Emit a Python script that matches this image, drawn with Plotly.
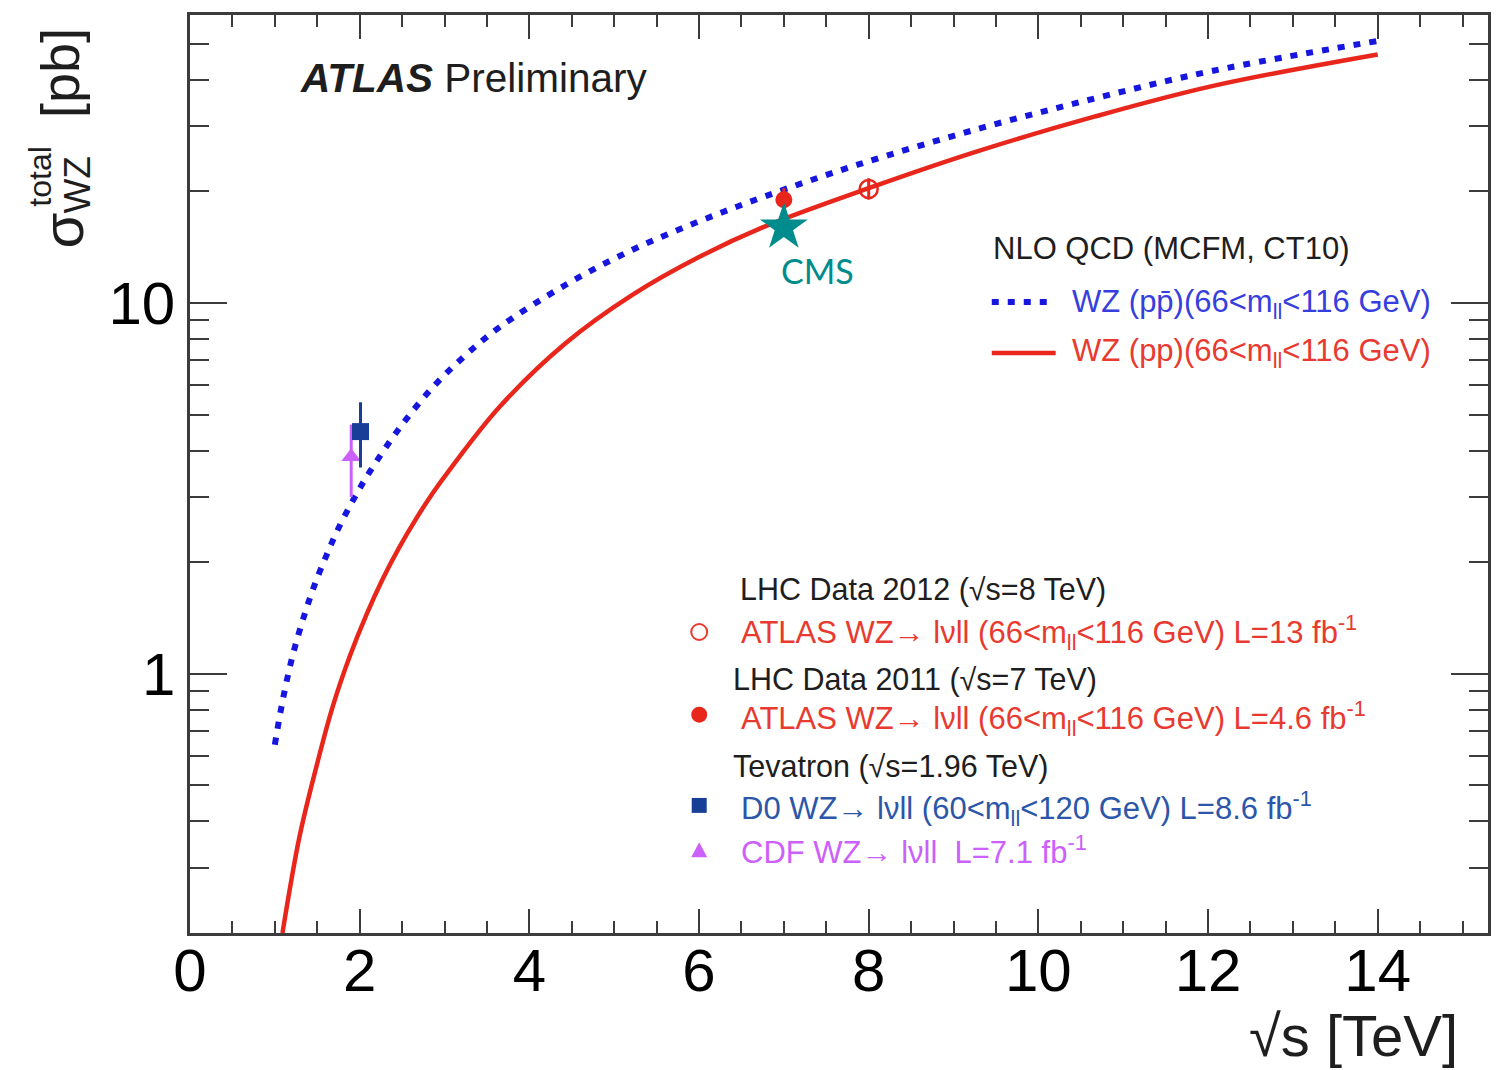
import math
import plotly.graph_objects as go

# NLO QCD (MCFM, CT10) predictions, total WZ cross section [pb] vs sqrt(s) [TeV]
ppbar_sqrts = [1.0, 1.094, 1.21, 1.35, 1.47, 1.61, 1.75, 1.94, 2.12, 2.47, 2.86, 3.25,
               3.65, 4.43, 5.21, 6.0, 6.78, 7.87, 9.27, 10.66, 12.06, 14.0]
ppbar_xsec = [0.644, 0.851, 1.12, 1.445, 1.74, 2.09, 2.47, 2.99, 3.51, 4.60, 5.92, 7.24,
              8.61, 11.2, 13.9, 16.6, 19.4, 23.6, 29.4, 35.6, 42.3, 50.9]

pp_sqrts = [1.09, 1.29, 1.49, 1.68, 1.88, 2.08, 2.27, 2.47, 2.67, 2.86, 3.06, 3.65,
            4.43, 5.21, 6.0, 6.78, 8.0, 9.27, 10.66, 12.06, 14.0]
pp_xsec = [0.20, 0.363, 0.562, 0.813, 1.11, 1.445, 1.80, 2.20, 2.63, 3.07, 3.55, 5.25,
           7.8, 10.5, 13.3, 16.1, 20.4, 25.6, 31.8, 38.5, 46.8]

# Measurements: sqrt(s), sigma, +err, -err
atlas2012_x, atlas2012_y, atlas2012_up, atlas2012_dn = [8.0], [20.3], [1.4], [1.3]
atlas2011_x, atlas2011_y, atlas2011_up, atlas2011_dn = [7.0], [19.0], [1.4], [1.3]
d0_x, d0_y, d0_up, d0_dn = [2.01], [4.5], [0.9], [0.9]
cdf_x, cdf_y, cdf_up, cdf_dn = [1.90], [3.85], [0.85], [0.85]
cms_x, cms_y = [7.0], [16.0]

x_ticks = [0, 2, 4, 6, 8, 10, 12, 14]
y_ticks = [1, 10]
y_minor = [0.2, 0.3, 0.4, 0.5, 0.6, 0.7, 0.8, 0.9, 2, 3, 4, 5, 6, 7, 8, 9, 20, 30, 40, 50, 60]

RED = "rgb(232,38,28)"
RED_TXT = "rgb(232,58,48)"
BLUE = "rgb(22,22,222)"
BLUE_TXT = "rgb(55,62,222)"
D0_BLUE = "rgb(24,62,152)"
D0_TXT = "rgb(44,86,168)"
VIOLET = "rgb(204,96,250)"
TEAL = "rgb(0,140,140)"
AXIS = "#3c3c3c"
TXT = "#1e1e1e"
FONT = "Liberation Sans, Arial, sans-serif"

W, H = 1503, 1070
L, R, T, B = 190, 13, 12, 137
PW, PH = W - L - R, H - T - B


def px(x):
    return (x - L) / PW


def py(y):
    return (H - B - y) / PH


fig = go.Figure()

fig.add_trace(go.Scatter(x=ppbar_sqrts, y=ppbar_xsec, mode="lines", line_shape="spline",
                         line=dict(color=BLUE, width=6, dash="7px,9px"),
                         showlegend=False, hoverinfo="skip"))
fig.add_trace(go.Scatter(x=pp_sqrts, y=pp_xsec, mode="lines", line_shape="spline",
                         line=dict(color=RED, width=4.5),
                         showlegend=False, hoverinfo="skip"))


def point(x, y, up, dn, symbol, color, size, fill=None, lw=2.5):
    fig.add_trace(go.Scatter(
        x=x, y=y, mode="markers",
        marker=dict(symbol=symbol, size=size, color=fill if fill else color,
                    line=dict(color=color, width=lw)),
        error_y=dict(type="data", array=up, arrayminus=dn, color=color,
                     thickness=3, width=0),
        showlegend=False, hoverinfo="skip"))


point(cdf_x, cdf_y, cdf_up, cdf_dn, "triangle-up", VIOLET, 17, lw=0)
point(d0_x, d0_y, d0_up, d0_dn, "square", D0_BLUE, 17, lw=0)
point(atlas2011_x, atlas2011_y, atlas2011_up, atlas2011_dn, "circle", RED, 17, lw=0)
point(atlas2012_x, atlas2012_y, atlas2012_up, atlas2012_dn, "circle-open", RED, 18, lw=2.5)

fig.add_trace(go.Scatter(x=cms_x, y=cms_y, mode="markers",
                         marker=dict(symbol="star", size=36, color=TEAL, line=dict(width=0)),
                         showlegend=False, hoverinfo="skip"))

ann = []


def text(s, x, y, size, color=TXT, anchor="left", angle=0, family=FONT):
    ann.append(dict(text=s, x=px(x), y=py(y), xref="paper", yref="paper",
                    xanchor=anchor, yanchor="middle", showarrow=False, textangle=angle,
                    font=dict(family=family, size=size, color=color)))


# experiment label
text("<b><i>ATLAS</i></b> Preliminary", 298, 75, 40.5)

# CMS label next to its star
ann.append(dict(text="CMS", x=cms_x[0] + 0.4, y=math.log10(12.2), xref="x", yref="y",
                showarrow=False, xanchor="center", yanchor="middle",
                font=dict(family="Lato, sans-serif", size=34, color=TEAL)))

# axis titles
text("σ", 62, 228, 58, angle=-90, anchor="center")
text("total", 40, 174, 32, angle=-90, anchor="center")
text("WZ", 77, 182, 37, angle=-90, anchor="center")
text("[pb]", 60, 70, 54, angle=-90, anchor="center")
text("√s [TeV]", 1462, 1036, 58, anchor="right")

# theory legend
text("NLO QCD (MCFM, CT10)", 992, 246, 31)
text("WZ (pp̄)(66&lt;m<sub>ll</sub>&lt;116 GeV)", 1071, 302, 31, color=BLUE_TXT)
text("WZ (pp)(66&lt;m<sub>ll</sub>&lt;116 GeV)", 1071, 351, 31, color=RED_TXT)

# data legend
text("LHC Data 2012 (√s=8 TeV)", 739, 588, 30.5)
text("ATLAS WZ→ lνll (66&lt;m<sub>ll</sub>&lt;116 GeV) L=13 fb<sup>-1</sup>", 740, 632, 31, color=RED_TXT)
text("LHC Data 2011 (√s=7 TeV)", 732, 679, 30.5)
text("ATLAS WZ→ lνll (66&lt;m<sub>ll</sub>&lt;116 GeV) L=4.6 fb<sup>-1</sup>", 740, 718, 31, color=RED_TXT)
text("Tevatron (√s=1.96 TeV)", 732, 766, 30.5)
text("D0 WZ→ lνll (60&lt;m<sub>ll</sub>&lt;120 GeV) L=8.6 fb<sup>-1</sup>", 740, 808, 31, color=D0_TXT)
text("CDF WZ→ lνll  L=7.1 fb<sup>-1</sup>", 740, 850, 31, color=VIOLET)


def line_key(x0, x1, y, **line):
    return dict(type="line", xref="paper", yref="paper", x0=px(x0), x1=px(x1),
                y0=py(y), y1=py(y), line=line)


def box_key(kind, cx, cy, r, fill, color, lw=0):
    return dict(type=kind, xref="paper", yref="paper", x0=px(cx - r), x1=px(cx + r),
                y0=py(cy + r), y1=py(cy - r), fillcolor=fill,
                line=dict(color=color, width=lw))


tri = (f"M {px(692)} {py(857)} L {px(708)} {py(857)} L {px(700)} {py(842)} Z")

shapes = [
    line_key(993, 1050, 300, color=BLUE, width=6, dash="7px,9px"),
    line_key(993, 1057, 351, color=RED, width=4.5),
    box_key("circle", 700, 631, 8, "rgba(0,0,0,0)", RED_TXT, 2),
    box_key("circle", 700, 714, 8, RED, RED, 0),
    box_key("rect", 700, 805, 7.5, D0_BLUE, D0_BLUE, 0),
    dict(type="path", xref="paper", yref="paper", path=tri, fillcolor=VIOLET,
         line=dict(width=0)),
]

fig.update_layout(
    width=W, height=H,
    margin=dict(l=L, r=R, t=T, b=B),
    paper_bgcolor="white", plot_bgcolor="white",
    annotations=ann, shapes=shapes,
    xaxis=dict(range=[0, 15.3], tickvals=x_ticks, ticktext=[str(v) for v in x_ticks],
               ticks="inside", ticklen=24, tickwidth=2, tickcolor=AXIS,
               showline=True, linecolor=AXIS, linewidth=2.5, mirror="ticks",
               showgrid=False, zeroline=False, ticklabelstandoff=-17,
               tickfont=dict(family=FONT, size=60, color="black"),
               minor=dict(dtick=0.5, tick0=0, ticks="inside", ticklen=12, tickwidth=2,
                          tickcolor=AXIS, showgrid=False)),
    yaxis=dict(type="log", range=[math.log10(0.2), math.log10(59.8)],
               tickvals=y_ticks, ticktext=[str(v) for v in y_ticks],
               ticks="inside", ticklen=37, tickwidth=2, tickcolor=AXIS,
               showline=True, linecolor=AXIS, linewidth=2.5, mirror="ticks",
               showgrid=False, zeroline=False,
               tickfont=dict(family=FONT, size=60, color="black"),
               minor=dict(tickvals=y_minor, ticks="inside", ticklen=19, tickwidth=2,
                          tickcolor=AXIS, showgrid=False)),
)

fig.write_html("out.html")
